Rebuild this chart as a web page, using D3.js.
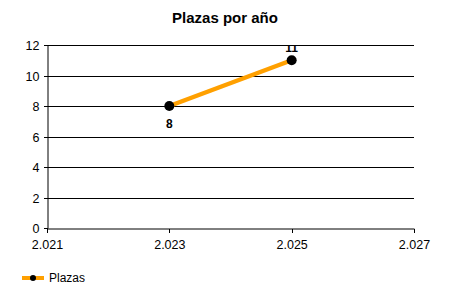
<!DOCTYPE html>
<html><head><meta charset="utf-8">
<script src="https://cdn.jsdelivr.net/npm/d3@7"></script>
<style>body{margin:0;background:#fff}svg{display:block;font-family:"Liberation Sans",Arial,sans-serif}</style>
</head><body>
<svg id="c" width="450" height="300"></svg>
<script>
const years = [2023, 2025];
const plazas = [8, 11];
const xTicks = [2021, 2023, 2025, 2027];
const yTicks = [0, 2, 4, 6, 8, 10, 12];
const title = "Plazas por año";
const seriesName = "Plazas";

const svg = d3.select("#c");
const m = {l:47, r:414, t:45, b:228};
const x = d3.scaleLinear().domain([2021, 2027]).range([m.l, m.r]);
const y = d3.scaleLinear().domain([0, 12]).range([m.b, m.t]);
const loc = d3.formatLocale({decimal:",", thousands:".", grouping:[3], currency:["","€"]});
const ry = d => Math.round(y(d)) + 0.5;

svg.append("text").attr("x", 225).attr("y", 23).attr("text-anchor","middle")
  .attr("font-size", 15).attr("font-weight","bold").text(title);

// gridlines
svg.append("g").selectAll("line").data(yTicks.filter(d=>d>0)).join("line")
  .attr("x1", m.l).attr("x2", m.r).attr("y1", ry).attr("y2", ry)
  .attr("stroke","#000").attr("stroke-width",1).attr("shape-rendering","crispEdges");

const xa = svg.append("g").attr("transform",`translate(0,${m.b+0.5})`)
  .call(d3.axisBottom(x).tickValues(xTicks).tickFormat(d=>loc.format(",")(d)).tickSize(4).tickSizeOuter(0));
const ya = svg.append("g").attr("transform",`translate(${m.l+0.5},0)`)
  .call(d3.axisLeft(y).tickValues(yTicks).tickSize(4).tickSizeOuter(0));
ya.selectAll(".tick").attr("transform", d=>`translate(0,${ry(d)})`);
[xa, ya].forEach(g=>{
  g.selectAll("path").attr("stroke","#000").attr("stroke-width",1);
  g.selectAll("line").attr("stroke","#000").attr("shape-rendering","crispEdges");
  g.selectAll("text").attr("font-size",12.5).attr("fill","#000").attr("font-family","Liberation Sans, Arial, sans-serif");
});
xa.selectAll("text").attr("dy","1.05em");
ya.selectAll("text").attr("dx","-1px");

svg.append("clipPath").attr("id","clip").append("rect")
  .attr("x", m.l).attr("y", m.t).attr("width", m.r-m.l).attr("height", m.b-m.t+20);

const data = years.map((d,i)=>({x:d, y:plazas[i]}));
const g = svg.append("g").attr("clip-path","url(#clip)");
g.append("path").datum(data)
  .attr("d", d3.line().x(d=>x(d.x)).y(d=>y(d.y)))
  .attr("fill","none").attr("stroke","#FFA000").attr("stroke-width",4.5);
g.selectAll("circle").data(data).join("circle")
  .attr("cx", d=>x(d.x)).attr("cy", d=>y(d.y)).attr("r", 5).attr("fill","#000");
g.selectAll("text.lbl").data(data).join("text").attr("class","lbl")
  .attr("x", d=>x(d.x)).attr("y", (d,i)=> i===0 ? y(d.y)+22 : y(d.y)-8)
  .attr("text-anchor","middle").attr("font-size",12).attr("font-weight","bold")
  .text(d=>d.y);

// legend
const lg = svg.append("g");
lg.append("line").attr("x1",22).attr("x2",44).attr("y1",278).attr("y2",278)
  .attr("stroke","#FFA000").attr("stroke-width",4);
lg.append("circle").attr("cx",33).attr("cy",278).attr("r",3).attr("fill","#000");
lg.append("text").attr("x",49).attr("y",282).attr("font-size",12).attr("fill","#000").text(seriesName);
</script>
</body></html>
